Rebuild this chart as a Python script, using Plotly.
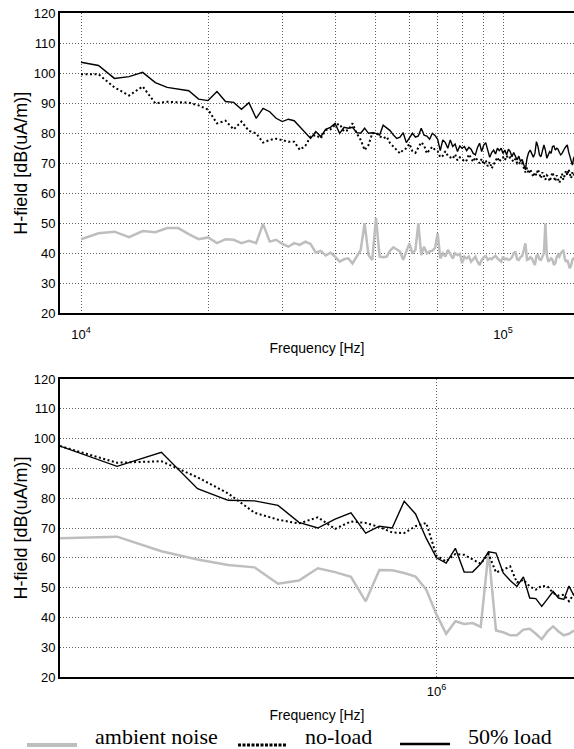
import plotly.graph_objects as go

# ---------------- data ----------------
series_names = ["ambient noise", "no-load", "50% load"]

top_freq_khz = list(range(10, 151))  # 10 kHz .. 150 kHz, 1 kHz steps

top_ambient = [
    44.7, 46.7, 47.2, 45.4, 47.4, 47.0, 48.4, 48.4, 46.4, 44.7,
    45.3, 43.4, 44.7, 44.5, 43.4, 44.2, 43.4, 49.8, 43.9, 44.5,
    43.1, 42.2, 43.4, 42.8, 43.9, 43.1, 40.2, 40.8, 39.3, 40.2,
    38.9, 37.2, 38.0, 38.3, 36.6, 38.9, 41.1, 50.0, 39.4, 37.8,
    51.8, 38.9, 38.7, 38.9, 40.9, 42.0, 41.3, 40.6, 37.8, 40.6,
    43.3, 40.0, 41.1, 50.0, 39.4, 42.2, 40.0, 40.6, 40.9, 41.7,
    46.7, 38.3, 40.0, 38.9, 41.1, 39.8, 38.3, 40.0, 39.4, 39.8,
    36.7, 38.9, 38.3, 38.9, 37.2, 38.0, 38.9, 37.2, 36.1, 37.8,
    38.7, 39.1, 37.8, 38.3, 38.0, 38.7, 39.1, 38.3, 37.6, 37.2,
    38.9, 38.0, 38.3, 37.8, 38.0, 38.7, 40.0, 40.6, 38.0, 37.8,
    38.7, 39.1, 41.1, 43.3, 37.8, 38.0, 38.7, 38.3, 37.2, 36.1,
    39.1, 39.4, 38.0, 37.8, 38.9, 40.0, 50.0, 39.4, 37.2, 37.8,
    38.3, 37.8, 36.1, 36.7, 38.7, 39.4, 38.9, 40.0, 40.6, 41.1,
    38.3, 37.2, 37.8, 36.7, 35.0, 36.1, 37.8, 38.3, 38.0, 37.0,
    38.5,
]

top_noload = [
    99.7, 99.7, 95.3, 92.6, 95.6, 90.0, 90.5, 90.3, 90.2, 89.3,
    87.9, 83.3, 84.2, 81.3, 83.9, 80.8, 80.0, 76.9, 77.8, 78.2,
    77.6, 77.2, 77.2, 74.5, 75.8, 78.9, 79.4, 78.3, 81.1, 81.3,
    82.8, 83.1, 80.6, 81.1, 83.3, 80.0, 77.8, 74.4, 76.1, 80.0,
    80.2, 79.0, 78.3, 78.9, 76.7, 75.6, 74.5, 73.3, 74.5, 75.0,
    76.5, 74.0, 73.5, 75.5, 77.0, 76.0, 73.3, 74.5, 75.5, 74.4,
    74.0, 72.0, 72.5, 74.0, 72.5, 72.0, 71.5, 73.0, 71.0, 72.0,
    71.5, 70.5, 71.0, 73.0, 71.5, 70.5, 72.0, 71.0, 70.0, 71.5,
    69.5, 71.0, 69.0, 70.5, 68.3, 69.5, 71.0, 72.0, 70.5, 71.5,
    72.0, 71.0, 72.5, 71.5, 72.0, 71.0, 70.5, 71.5, 70.0, 70.5,
    69.5, 70.0, 68.5, 67.0, 68.5, 66.5, 68.0, 67.0, 65.5, 67.0,
    66.0, 68.0, 66.5, 65.0, 67.0, 66.0, 64.5, 66.0, 65.5, 64.0,
    65.5, 67.0, 65.5, 64.0, 66.0, 65.0, 63.5, 65.0, 66.5, 64.5,
    66.0, 67.5, 66.0, 68.0, 66.5, 65.0, 67.0, 66.0, 67.5, 66.0,
    67.0,
]

top_load50 = [
    103.7, 102.6, 98.3, 98.9, 100.3, 96.9, 95.3, 94.8, 94.2, 91.4,
    90.9, 93.9, 90.6, 90.3, 88.0, 90.2, 85.0, 88.3, 87.2, 85.0,
    83.9, 84.7, 84.2, 82.2, 80.2, 78.3, 80.6, 78.9, 81.3, 82.0,
    83.3, 80.0, 82.0, 81.7, 82.0, 80.2, 80.0, 81.7, 80.0, 80.2,
    80.0, 79.4, 82.7, 81.7, 80.9, 79.4, 78.3, 78.7, 80.2, 76.9,
    78.7, 80.0, 78.7, 79.1, 81.7, 79.4, 79.1, 78.0, 80.0, 79.3,
    78.0, 74.2, 77.8, 76.9, 75.0, 77.8, 75.6, 76.4, 73.9, 75.8,
    75.0, 75.6, 74.2, 75.3, 74.7, 73.3, 72.8, 75.3, 76.7, 73.9,
    76.1, 76.9, 74.4, 72.0, 73.6, 74.4, 73.1, 75.0, 74.2, 75.0,
    73.3, 74.4, 72.8, 74.7, 73.9, 72.2, 73.6, 72.0, 71.1, 72.4,
    70.6, 71.3, 69.4, 67.8, 71.7, 73.6, 74.4, 72.8, 72.0, 73.3,
    77.2, 75.6, 72.8, 72.2, 74.4, 76.1, 74.4, 71.7, 72.8, 73.9,
    73.3, 75.6, 75.8, 74.4, 75.0, 74.7, 73.6, 72.8, 73.3, 74.4,
    75.0, 75.6, 76.1, 73.9, 72.4, 71.1, 69.4, 71.7, 72.5, 71.5,
    72.0,
]

bot_freq_khz = list(range(150, 2001, 50))  # 150 kHz .. 2 MHz, 50 kHz steps

bot_ambient = [
    66.6, 67.1, 62.2, 59.4, 57.6, 56.8, 51.3, 52.4, 56.5, 55.2,
    53.6, 45.4, 55.9, 55.8, 54.9, 53.7, 49.3, 41.0, 34.5, 38.7,
    37.8, 38.1, 36.8, 62.1, 35.6, 35.0, 34.0, 34.0, 35.9, 36.2,
    34.5, 32.7, 35.3, 37.0, 35.3, 34.0, 34.5, 35.6,
]

bot_noload = [
    97.5, 91.9, 92.4, 87.0, 81.6, 75.1, 72.8, 71.5, 73.6, 69.7,
    72.2, 71.7, 70.3, 68.5, 68.3, 70.6, 71.7, 60.7, 58.8, 61.3,
    61.0, 59.6, 58.0, 61.3, 55.1, 56.0, 57.1, 51.7, 52.6, 50.4,
    49.3, 50.6, 50.4, 48.2, 47.3, 47.6, 45.4, 47.9,
]

bot_load50 = [
    97.5, 90.7, 95.4, 83.2, 79.3, 79.1, 77.6, 71.9, 70.0, 73.0,
    75.1, 68.3, 70.6, 70.0, 79.0, 74.7, 66.5, 60.0, 58.2, 63.2,
    55.2, 55.2, 58.0, 62.0, 61.6, 54.9, 52.4, 50.4, 53.6, 46.5,
    46.3, 43.7, 46.2, 48.7, 46.5, 46.0, 50.5, 47.3,
]

top_tick_vals = [10000, 100000]
top_tick_text = ["10<sup>4</sup>", "10<sup>5</sup>"]
top_minor_grid_vals = [20000, 30000, 40000, 50000, 60000, 70000, 80000, 90000]
bot_tick_vals = [1000000]
bot_tick_text = ["10<sup>6</sup>"]

y_range = [20, 120]
top_x_range_log = [3.9502, 5.1682]
bot_x_range_log = [5.17609, 6.30103]

# ---------------- styling ----------------
W, H = 574, 749
styles = {
    "ambient noise": dict(color="#bebebe", width=2.5, dash="solid"),
    "no-load": dict(color="black", width=2, dash="2px,2.5px"),
    "50% load": dict(color="black", width=1.4, dash="solid"),
}

def px_x(p):
    return p / W

def px_y(p):
    return 1 - p / H

fig = go.Figure()

top_hz = [f * 1000 for f in top_freq_khz]
bot_hz = [f * 1000 for f in bot_freq_khz]

for name, vals in zip(series_names, [top_ambient, top_noload, top_load50]):
    fig.add_trace(go.Scatter(x=top_hz, y=vals, mode="lines", name=name,
                             line=styles[name], xaxis="x", yaxis="y",
                             showlegend=False))
for name, vals in zip(series_names, [bot_ambient, bot_noload, bot_load50]):
    fig.add_trace(go.Scatter(x=bot_hz, y=vals, mode="lines", name=name,
                             line=styles[name], xaxis="x2", yaxis="y2",
                             showlegend=False))

tick_font = dict(family="Liberation Sans, Arial, sans-serif", size=13, color="black")
xtitle_font = dict(family="Liberation Sans, Arial, sans-serif", size=14, color="black")
ytitle_font = dict(family="Liberation Sans, Arial, sans-serif", size=18, color="black")

grid = dict(showgrid=True, gridcolor="#606060", griddash="1px,2px", gridwidth=1)

def yaxis_cfg(domain, anchor):
    return dict(domain=domain, anchor=anchor, range=y_range, tick0=20, dtick=10,
                showline=True, linecolor="black", linewidth=2, mirror=False,
                ticks="", zeroline=False, tickfont=tick_font, automargin=False,
                ticklabelstandoff=0,
                title=dict(text="H-field [dB(uA/m)]", font=ytitle_font, standoff=1),
                **grid)

x_dom = [px_x(60), 1.0]
top_dom = [px_y(313.3), px_y(13.3)]
bot_dom = [px_y(677), px_y(379)]

fig.update_layout(
    width=W, height=H,
    margin=dict(l=0, r=0, t=0, b=0),
    paper_bgcolor="white", plot_bgcolor="white",
    showlegend=False,
    xaxis=dict(domain=x_dom, anchor="y", type="log", range=top_x_range_log,
               tickmode="array", tickvals=top_tick_vals, ticktext=top_tick_text,
               minor=dict(tickmode="array", tickvals=top_minor_grid_vals,
                          showgrid=True, gridcolor="#606060", griddash="1px,2px",
                          gridwidth=1, ticks=""),
               showline=True, linecolor="black", linewidth=2, mirror=True,
               ticks="", zeroline=False, tickfont=tick_font, automargin=False,
               ticklabelstandoff=8,
               title=dict(text="Frequency [Hz]", font=xtitle_font, standoff=2),
               **grid),
    yaxis=yaxis_cfg(top_dom, "x"),
    xaxis2=dict(domain=x_dom, anchor="y2", type="log", range=bot_x_range_log,
                tickmode="array", tickvals=bot_tick_vals, ticktext=bot_tick_text,
                showline=True, linecolor="black", linewidth=2, mirror=True,
                ticks="", zeroline=False, tickfont=tick_font, automargin=False,
                ticklabelstandoff=1,
                title=dict(text="Frequency [Hz]", font=xtitle_font, standoff=13),
                **grid),
    yaxis2=yaxis_cfg(bot_dom, "x2"),
)

# ---------------- legend (drawn at the bottom, like the original) ----------------
legend_items = [
    ("ambient noise", 27, 77, 93, 745, 4),
    ("no-load", 238, 287, 303, 745, 3),
    ("50% load", 400, 450, 466, 744, 2.5),
]
for name, sx0, sx1, tx, sy, lw in legend_items:
    st = styles[name]
    dash = "solid" if st["dash"] == "solid" else "3px,1.5px"
    fig.add_shape(type="line", xref="paper", yref="paper",
                  x0=px_x(sx0), x1=px_x(sx1), y0=px_y(sy), y1=px_y(sy),
                  line=dict(color=st["color"], width=lw, dash=dash))
    fig.add_annotation(text=name, xref="paper", yref="paper",
                       x=px_x(tx), y=px_y(736), xanchor="left", yanchor="middle",
                       showarrow=False,
                       font=dict(family="Liberation Serif, Times New Roman, serif",
                                 size=22, color="black"))

fig.write_html(
    "out.html",
    config={"displayModeBar": False},
    post_script="document.body.style.margin='0';document.body.style.overflow='hidden';",
)
